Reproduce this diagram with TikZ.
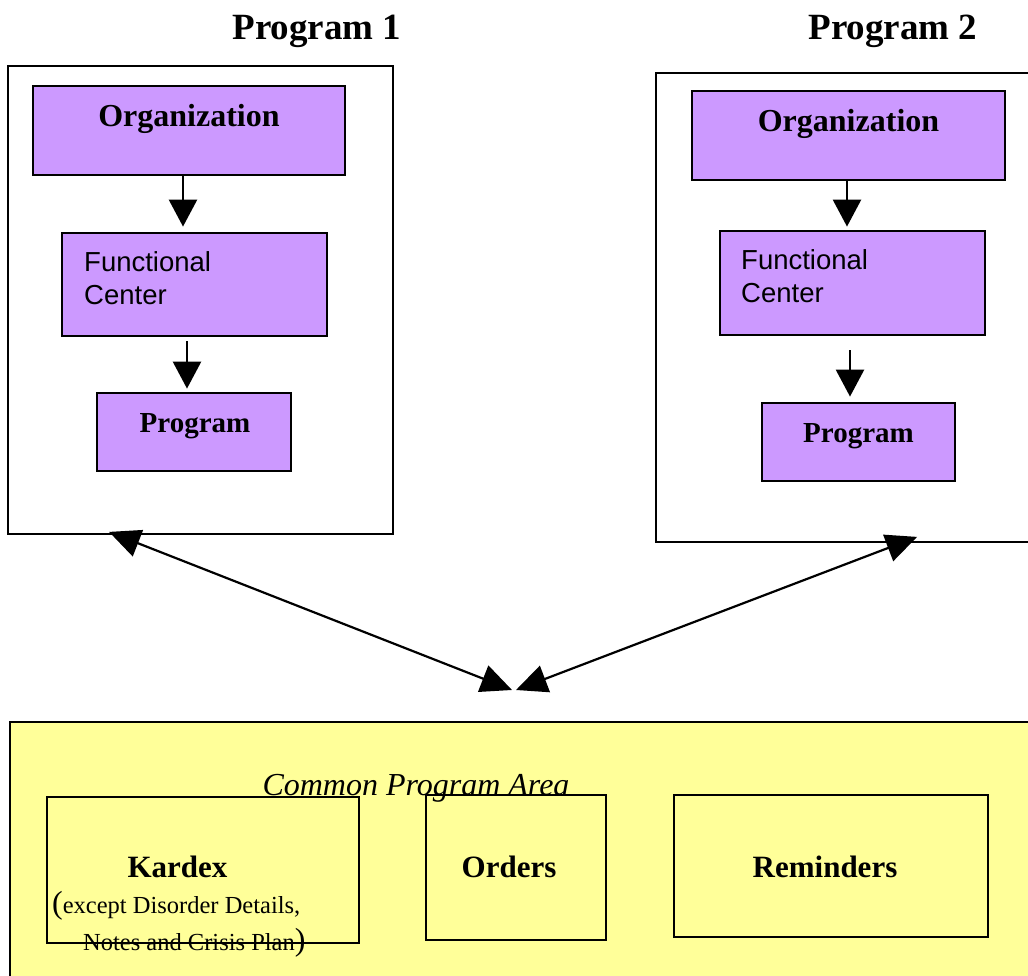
\documentclass[tikz,border=0pt]{standalone}
\usepackage{fontspec}
\setmainfont{Liberation Serif}
\setsansfont{Liberation Sans}
\usetikzlibrary{arrows.meta,positioning}

\definecolor{unitpurple}{HTML}{CC99FF}
\definecolor{areayellow}{HTML}{FFFF99}

\tikzset{
	progframe/.style={draw, line width=1.8pt, inner sep=0pt},
	unitbox/.style={draw, line width=2.8pt, fill=unitpurple, inner sep=0pt},
	areabox/.style={draw, line width=2.6pt, inner sep=0pt},
	titlelbl/.style={font=\fontsize{37}{40}\selectfont\bfseries, inner sep=0pt, anchor=base},
	boldlbl/.style={font=\fontsize{31}{34}\selectfont\bfseries, inner sep=0pt, anchor=base},
	sanslbl/.style={font=\fontsize{27.5}{33}\selectfont\sffamily, align=left, inner sep=0pt, anchor=base west},
	smalllbl/.style={font=\fontsize{24.5}{26}\selectfont, inner sep=0pt, anchor=base west},
	downtip/.style={line width=2.6pt, -{Triangle[length=27pt,width=28pt]}},
	bothtip/.style={line width=2.2pt, {Triangle[length=31pt,width=28pt]}-{Triangle[length=31pt,width=28pt]}}
}

\begin{document}
\begin{tikzpicture}[x=1pt,y=-1pt]
	\useasboundingbox (0,0) rectangle (1028,976);
	\clip (0,0) rectangle (1028,976);

	% program frames
	\node [titlelbl] (title1) at (317,40) {Program 1};
	\node [titlelbl] (title2) at (893,40) {Program 2};
	\node [progframe, minimum width=385pt, minimum height=468pt] (outer1) at (200.5,300) {};
	\node [progframe, minimum width=385pt, minimum height=469pt] (outer2) at (848.5,307.5) {};

	% left hierarchy
	\node [unitbox, minimum width=312pt, minimum height=89pt] (org1) at (189,130.5) {};
	\node [unitbox, minimum width=265pt, minimum height=103pt] (fc1) at (194.5,284.5) {};
	\node [unitbox, minimum width=194pt, minimum height=78pt] (pr1) at (194,432) {};
	\node [boldlbl, font=\fontsize{32}{34}\selectfont\bfseries] (org1lbl) at (189,127) {Organization};
	\node [sanslbl] (fc1lbl) at (84,305) {Functional\\Center};
	\node [boldlbl, font=\fontsize{29}{30}\selectfont\bfseries] (pr1lbl) at (195,432) {Program};
	\draw [downtip] ([xshift=-6pt]org1.south) -- ([xshift=-11.5pt,yshift=5pt]fc1.north);
	\draw [downtip] ([xshift=-7.5pt,yshift=-4pt]fc1.south) -- ([xshift=-7pt,yshift=3pt]pr1.north);

	% right hierarchy
	\node [unitbox, minimum width=313pt, minimum height=89pt] (org2) at (848.5,135.5) {};
	\node [unitbox, minimum width=265pt, minimum height=104pt] (fc2) at (852.5,283) {};
	\node [unitbox, minimum width=193pt, minimum height=78pt] (pr2) at (858.5,442) {};
	\node [boldlbl, font=\fontsize{32}{34}\selectfont\bfseries] (org2lbl) at (848.5,132) {Organization};
	\node [sanslbl] (fc2lbl) at (741,303) {Functional\\Center};
	\node [boldlbl, font=\fontsize{29}{30}\selectfont\bfseries] (pr2lbl) at (858.5,442) {Program};
	\draw [downtip] ([xshift=-1.5pt]org2.south) -- ([xshift=-5.5pt,yshift=3pt]fc2.north);
	\draw [downtip] ([xshift=-2.5pt,yshift=-14pt]fc2.south) -- ([xshift=-8.5pt,yshift=5pt]pr2.north);

	% links to the common area
	\coordinate (up1) at ([xshift=102pt,yshift=3pt]outer1.south west);
	\coordinate (up2) at ([xshift=262pt,yshift=6pt]outer2.south west);
	\coordinate (meetL) at (512,690);
	\coordinate (meetR) at (516,690);
	\draw [bothtip] (up1) -- (meetL);
	\draw [bothtip] (up2) -- (meetR);

	% common program area
	\draw [areabox, fill=areayellow] (10,722) rectangle (1045,995);
	\node [boldlbl, font=\fontsize{32}{34}\selectfont\itshape] (arealbl) at (416,795) {Common Program Area};
	\node [areabox, minimum width=312pt, minimum height=146pt] (kardex) at (203,870) {};
	\node [areabox, minimum width=180pt, minimum height=145pt] (orders) at (516,867.5) {};
	\node [areabox, minimum width=314pt, minimum height=142pt] (remind) at (831,866) {};
	\node [boldlbl] (kardexlbl) at (177.5,877) {Kardex};
	\node [smalllbl] (kdxnote1) at (52,913) {{\fontsize{32}{32}\selectfont(}except Disorder Details,};
	\node [smalllbl] (kdxnote2) at (83,950) {Notes and Crisis Plan{\fontsize{32}{32}\selectfont)}};
	\node [boldlbl] (orderslbl) at (509,877) {Orders};
	\node [boldlbl] (remindlbl) at (825,877) {Reminders};
\end{tikzpicture}
\end{document}
